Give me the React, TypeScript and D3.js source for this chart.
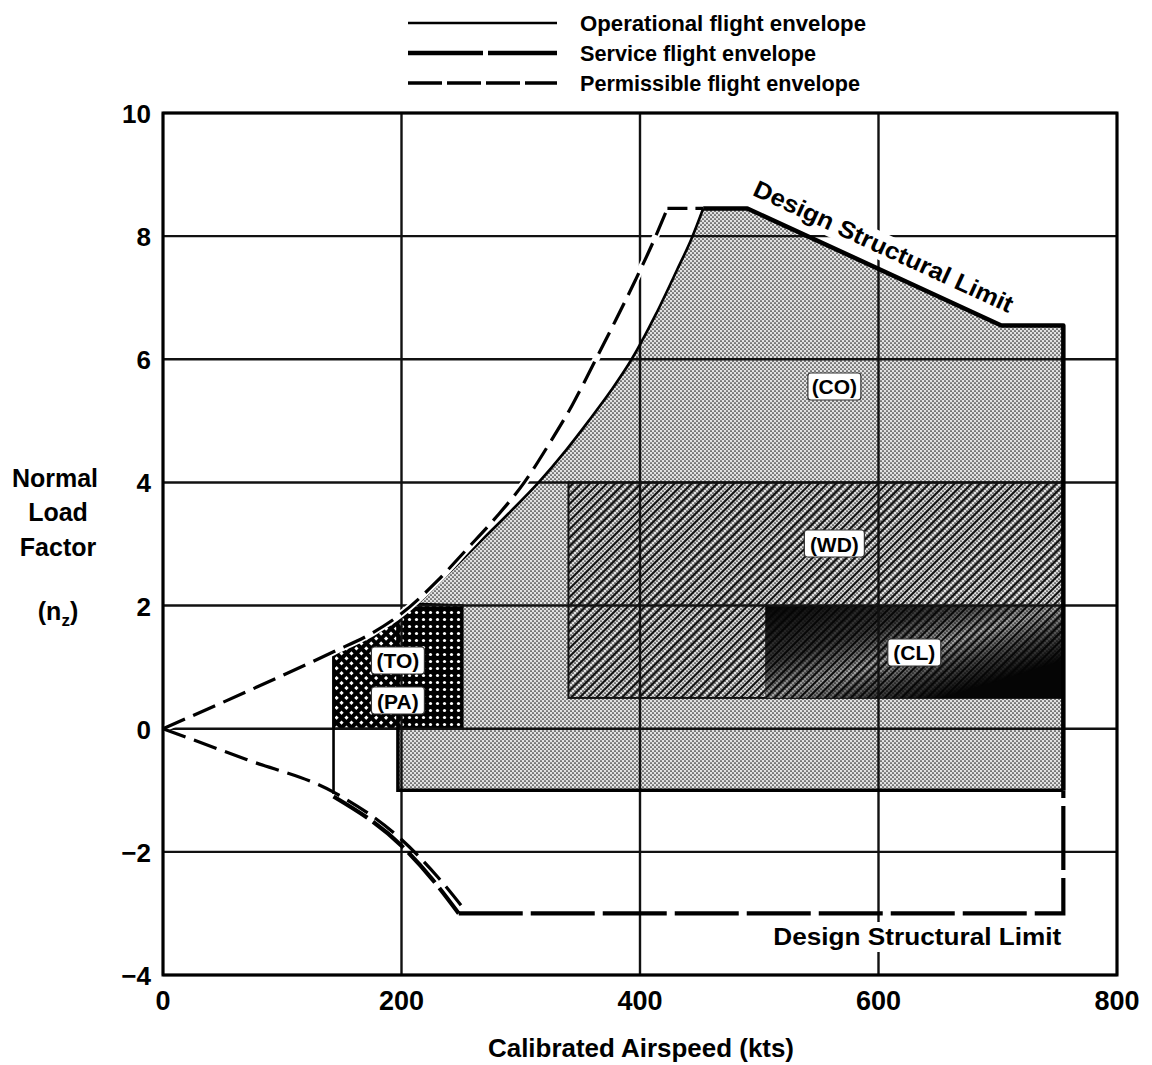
import React from "react";
import * as d3 from "d3";

type Pt = [number, number];

const xTicks = [0, 200, 400, 600, 800];
const yTicks = [-4, -2, 0, 2, 4, 6, 8, 10];

const legendNames = [
  "Operational flight envelope",
  "Service flight envelope",
  "Permissible flight envelope",
];
const legendWidths = [286, 236, 280];

// airspeed (kts), normal load factor
const operationalCurve: Pt[] = [
  [200, 1.85], [211, 2], [238, 2.5], [264, 3], [290, 3.5], [315, 4], [337, 4.5],
  [357, 5], [376, 5.5], [393, 6], [413, 6.72], [431, 7.45], [443, 7.95], [453, 8.45],
];
const structuralLimit: Pt[] = [[453, 8.45], [490, 8.45], [703, 6.55], [755, 6.55], [755, -1]];
const operationalBase: Pt[] = [[755, -1], [197, -1], [197, 1.82]];
const operationalLowSpeed: Pt[] = [[143, -1.06], [143, 1.25]];

const permissibleUpper: Pt[] = [
  [0, 0], [70, 0.6], [143, 1.25], [175, 1.55], [200, 1.87], [230, 2.4], [255, 2.92], [280, 3.45],
  [303, 4], [323, 4.6], [343, 5.25], [363, 6], [380, 6.65], [396, 7.28], [410, 7.86], [423, 8.45],
];
const permissibleTop: Pt[] = [[423, 8.45], [453, 8.45]];
const permissibleLower: Pt[] = [[0, 0], [70, -0.5], [143, -1.03], [200, -1.8], [230, -2.4], [254, -2.97]];
const serviceLower: Pt[] = [[143, -1.1], [200, -1.9], [226, -2.45], [248, -3]];
const serviceBottom: Pt[] = [[248, -3], [755, -3], [755, -1]];

// mission phase areas
const wdX = [340, 755];
const wdY = [0.5, 4];
const clX = [505, 755];
const clY = [0.5, 2];
const toArea: Pt[] = [[143, 0], [143, 1.25], [175, 1.55], [200, 1.87], [211, 2.03], [251, 2], [251, 0]];
const paX = [200, 251];
const paY = [0, 2];

const phaseNames = ["(CO)", "(WD)", "(CL)", "(TO)", "(PA)"];
const phaseAt: Pt[] = [[563, 5.55], [563, 3.0], [630, 1.23], [197, 1.1], [197, 0.45]];

const FONT = "'Liberation Sans', Arial, Helvetica, sans-serif";

export default function App() {
  const x = d3.scaleLinear().domain([0, 800]).range([163, 1117]);
  const y = d3.scaleLinear().domain([-4, 10]).range([975, 113]);
  const line = d3.line<Pt>().x((d) => x(d[0])).y((d) => y(d[1]));
  const smooth = d3.line<Pt>().x((d) => x(d[0])).y((d) => y(d[1])).curve(d3.curveMonotoneX);

  const shadedPath =
    (smooth(operationalCurve) ?? "") +
    (line([...structuralLimit.slice(1), ...operationalBase.slice(1)]) ?? "").replace(/^M/, "L") +
    "Z";

  // rotated label along the sloped structural limit
  const [a, b] = [structuralLimit[1], structuralLimit[2]];
  const dx = x(b[0]) - x(a[0]);
  const dy = y(b[1]) - y(a[1]);
  const ang = (Math.atan2(dy, dx) * 180) / Math.PI;
  const len = Math.hypot(dx, dy);
  const off = 15;
  const lx = x(a[0]) + (dy / len) * off - 2;
  const ly = y(a[1]) - (dx / len) * off;

  const rectOf = (xs: number[], ys: number[]) => ({
    x: x(xs[0]),
    y: y(ys[1]),
    width: x(xs[1]) - x(xs[0]),
    height: y(ys[0]) - y(ys[1]),
  });

  return (
    <svg
      width={1152}
      height={1065}
      style={{ position: "absolute", left: 0, top: 0, background: "#fff" }}
      fontFamily={FONT}
      fontWeight="bold"
    >
      <defs>
        <pattern id="dots" width={4} height={4} patternUnits="userSpaceOnUse">
          <rect width={4} height={4} fill="#e2e2e2" />
          <circle cx={1} cy={1} r={0.85} fill="#222" />
          <circle cx={3} cy={3} r={0.85} fill="#222" />
        </pattern>
        <pattern id="hatch" width={6} height={6} patternUnits="userSpaceOnUse" patternTransform="rotate(45)">
          <line x1={3} y1={0} x2={3} y2={6} stroke="#111" strokeWidth={2.2} />
        </pattern>
        <pattern id="cross" width={7} height={7} patternUnits="userSpaceOnUse" patternTransform="rotate(45)">
          <rect width={7} height={7} fill="#000" />
          <rect x={2} y={2} width={3} height={3} fill="#fff" />
        </pattern>
        <pattern id="whiteDots" width={7} height={7} patternUnits="userSpaceOnUse">
          <rect width={7} height={7} fill="#000" />
          <circle cx={3.5} cy={3.5} r={1.6} fill="#fff" />
        </pattern>
        <linearGradient id="clGrad" x1={0} y1={0} x2={1} y2={1}>
          <stop offset={0} stopColor="#000" />
          <stop offset={0.32} stopColor="#444" />
          <stop offset={0.5} stopColor="#bbb" />
          <stop offset={0.64} stopColor="#555" />
          <stop offset={0.8} stopColor="#000" />
        </linearGradient>
        <mask id="clFade" maskContentUnits="objectBoundingBox">
          <rect width={1} height={1} fill="url(#clGrad)" />
        </mask>
        <clipPath id="toClip">
          <path d={line(toArea) + "Z"} />
        </clipPath>
      </defs>

      {/* operational envelope (CO) */}
      <path d={shadedPath} fill="url(#dots)" />

      {/* WD */}
      <rect {...rectOf(wdX, wdY)} fill="url(#hatch)" />
      <rect {...rectOf(wdX, wdY)} fill="none" stroke="#111" strokeWidth={2} />

      {/* CL */}
      <rect {...rectOf(clX, clY)} fill="#050505" />
      <g mask="url(#clFade)">
        <rect {...rectOf(clX, clY)} fill="url(#dots)" />
        <rect {...rectOf(clX, clY)} fill="url(#hatch)" />
      </g>

      {/* TO / PA */}
      <g clipPath="url(#toClip)">
        <rect {...rectOf([toArea[0][0], toArea[5][0]], [0, 2.1])} fill="url(#cross)" />
        <rect {...rectOf(paX, paY)} fill="url(#whiteDots)" />
      </g>
      <path d={line(toArea) + "Z"} fill="none" stroke="#000" strokeWidth={2.5} />

      {/* grid */}
      {xTicks.map((t) => (
        <line key={"gx" + t} x1={x(t)} x2={x(t)} y1={y(-4)} y2={y(10)} stroke="#111" strokeWidth={2.4} />
      ))}
      {yTicks.map((t) => (
        <line key={"gy" + t} x1={x(0)} x2={x(800)} y1={y(t)} y2={y(t)} stroke="#111" strokeWidth={2.4} />
      ))}

      {/* envelope boundaries */}
      <path d={line(operationalBase) ?? ""} fill="none" stroke="#000" strokeWidth={3.5} />
      <path d={smooth(operationalCurve) ?? ""} fill="none" stroke="#000" strokeWidth={2.6} />
      <path d={line(operationalLowSpeed) ?? ""} fill="none" stroke="#000" strokeWidth={2.6} />
      <path d={line(structuralLimit) ?? ""} fill="none" stroke="#000" strokeWidth={4.5} strokeLinejoin="round" />
      <path d={smooth(permissibleUpper) ?? ""} fill="none" stroke="#fff" strokeWidth={7} />
      <path d={smooth(permissibleUpper) ?? ""} fill="none" stroke="#000" strokeWidth={3.2} strokeDasharray="24 9" />
      <path d={line(permissibleTop) ?? ""} fill="none" stroke="#000" strokeWidth={3.2} strokeDasharray="20 8" />
      <path d={smooth(permissibleLower) ?? ""} fill="none" stroke="#000" strokeWidth={3.2} strokeDasharray="24 9" />
      <path d={smooth(serviceLower) ?? ""} fill="none" stroke="#000" strokeWidth={4.2} strokeDasharray="40 7" />
      <path d={line(serviceBottom) ?? ""} fill="none" stroke="#000" strokeWidth={4.2} strokeDasharray="64 8" />

      {/* structural limit labels */}
      <g transform={`translate(${lx},${ly}) rotate(${ang})`}>
        <rect x={-4} y={-21} width={292} height={27} fill="#fff" />
        <text x={0} y={0} fontSize={24} textLength={283} lengthAdjust="spacingAndGlyphs">
          Design Structural Limit
        </text>
      </g>
      <rect x={766} y={922} width={296} height={30} fill="#fff" />
      <text x={x(755) - 2} y={945} fontSize={23} textAnchor="end" textLength={288} lengthAdjust="spacingAndGlyphs">
        Design Structural Limit
      </text>

      {/* phase labels */}
      {phaseNames.map((n, i) => {
        const w = n.length * 12.5 + (n.includes("W") ? 10 : 3);
        const cx = x(phaseAt[i][0]);
        const cy = y(phaseAt[i][1]);
        return (
          <g key={n}>
            <rect x={cx - w / 2} y={cy - 14} width={w} height={27} rx={3} fill="#fff" stroke="#333" strokeWidth={1.2} />
            <text x={cx} y={cy + 7.5} fontSize={21} textAnchor="middle">
              {n}
            </text>
          </g>
        );
      })}

      {/* frame */}
      <rect x={x(0)} y={y(10)} width={x(800) - x(0)} height={y(-4) - y(10)} fill="none" stroke="#000" strokeWidth={3} />

      {/* tick labels */}
      {yTicks.map((t) => (
        <text key={"ty" + t} x={151} y={y(t) + 10} fontSize={26} textAnchor="end">
          {t < 0 ? "\u2212" + Math.abs(t) : t}
        </text>
      ))}
      {xTicks.map((t) => (
        <text key={"tx" + t} x={x(t)} y={1010} fontSize={27} textAnchor="middle">
          {t}
        </text>
      ))}

      {/* axis titles */}
      <text x={641} y={1057} fontSize={25} textAnchor="middle" textLength={306} lengthAdjust="spacingAndGlyphs">
        Calibrated Airspeed (kts)
      </text>
      <g fontSize={25} textAnchor="middle">
        <text x={55} y={487}>Normal</text>
        <text x={58} y={521}>Load</text>
        <text x={58} y={556}>Factor</text>
        <text x={58} y={620}>
          (n<tspan fontSize={17} dy={6}>z</tspan>
          <tspan dy={-6}>)</tspan>
        </text>
      </g>

      {/* legend */}
      {legendNames.map((n, i) => {
        const ly2 = 23 + i * 30;
        const style =
          i === 0
            ? { strokeWidth: 2.6, dash: undefined }
            : i === 1
            ? { strokeWidth: 4.5, dash: "75 5" }
            : { strokeWidth: 3.4, dash: "34 5" };
        return (
          <g key={n}>
            <line x1={408} x2={557} y1={ly2} y2={ly2} stroke="#000" strokeWidth={style.strokeWidth} strokeDasharray={style.dash} />
            <text x={580} y={ly2 + 8} fontSize={22} textLength={legendWidths[i]} lengthAdjust="spacingAndGlyphs">
              {n}
            </text>
          </g>
        );
      })}
    </svg>
  );
}
